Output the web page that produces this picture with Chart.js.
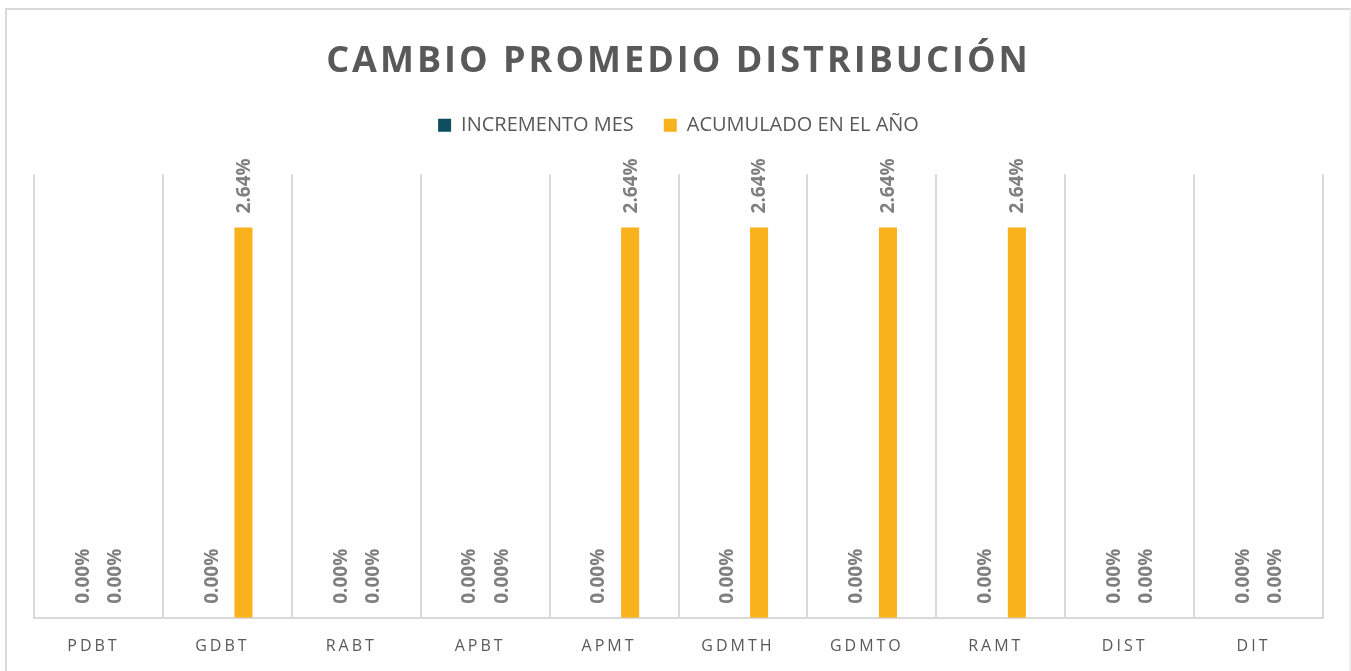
<!DOCTYPE html>
<html>
<head>
<meta charset="utf-8">
<script src="https://cdn.jsdelivr.net/npm/chart.js@4"></script>
<style>
  html, body { margin: 0; padding: 0; background: #fff; overflow: hidden; }
  #frame { position: absolute; left: 5px; top: 8px; width: 1346px; height: 700px; border: 2px solid #d9d9d9; border-right-color: #f0f0f0; box-sizing: border-box; }
  #cambioChart { position: absolute; left: 0; top: 0; }
</style>
</head>
<body>
<div id="frame"></div>
<canvas id="cambioChart" width="1351" height="671"></canvas>
<script>
const categories = ["PDBT", "GDBT", "RABT", "APBT", "APMT", "GDMTH", "GDMTO", "RAMT", "DIST", "DIT"];
const incrementoMes = [0, 0, 0, 0, 0, 0, 0, 0, 0, 0];
const acumuladoAnio = [0, 2.64, 0, 0, 2.64, 2.64, 2.64, 2.64, 0, 0];

// canvas letterSpacing only for the title and the category labels,
// plus some extra room under the legend
const layoutTweaks = {
  id: "layoutTweaks",
  beforeLayout(chart) {
    const lg = chart.legend;
    if (lg && !lg._fitWrapped) {
      const fit = lg.fit;
      lg.fit = function (...args) {
        fit.apply(this, args);
        this.height += 29;
      };
      lg._fitWrapped = true;
    }
  },
  beforeDraw(chart) {
    const wrap = (obj, key, sp) => {
      if (!obj || obj["_sp_" + key]) return;
      const orig = obj[key];
      obj[key] = function (...args) {
        const c = this.ctx;
        c.save();
        c.letterSpacing = sp;
        orig.apply(this, args);
        c.restore();
      };
      obj["_sp_" + key] = true;
    };
    wrap(chart.titleBlock, "draw", "3px");
    wrap(chart.scales.x, "drawLabels", "3px");
  }
};

const valueLabels = {
  id: "valueLabels",
  afterDatasetsDraw(chart) {
    const ctx = chart.ctx;
    ctx.save();
    ctx.fillStyle = "#7f7f7f";
    ctx.font = "bold 19px 'Open Sans'";
    ctx.textAlign = "left";
    ctx.textBaseline = "middle";
    chart.data.datasets.forEach((ds, i) => {
      chart.getDatasetMeta(i).data.forEach((bar, j) => {
        ctx.save();
        ctx.translate(bar.x + 1, bar.y - 14);
        ctx.rotate(-Math.PI / 2);
        ctx.fillText(ds.data[j].toFixed(2) + "%", 0, 0);
        ctx.restore();
      });
    });
    ctx.restore();
  }
};

const ctx = document.getElementById("cambioChart");
new Chart(ctx, {
  type: "bar",
  data: {
    labels: categories,
    datasets: [
      {
        label: "INCREMENTO MES",
        data: incrementoMes,
        backgroundColor: "#0E4D5F",
        categoryPercentage: 0.5,
        barPercentage: 0.56
      },
      {
        label: "ACUMULADO EN EL AÑO",
        data: acumuladoAnio,
        backgroundColor: "#F9B21B",
        categoryPercentage: 0.5,
        barPercentage: 0.56
      }
    ]
  },
  options: {
    responsive: false,
    animation: false,
    devicePixelRatio: 1,
    layout: { padding: { left: 34, right: 28, top: 0, bottom: -4 } },
    plugins: {
      tooltip: { enabled: false },
      title: {
        display: true,
        text: "CAMBIO PROMEDIO DISTRIBUCIÓN",
        color: "#595959",
        font: { family: "'Open Sans'", size: 36, weight: "bold" },
        padding: { top: 40, bottom: 2 }
      },
      legend: {
        position: "top",
        labels: {
          boxWidth: 13,
          boxHeight: 13,
          padding: 30,
          color: "#595959",
          font: { family: "'Open Sans'", size: 20 }
        }
      }
    },
    scales: {
      x: {
        grid: { offset: true, color: "#d9d9d9", lineWidth: 2, drawTicks: false },
        border: { color: "#d9d9d9", width: 2 },
        ticks: { color: "#595959", padding: 19, labelOffset: -5, font: { family: "'Open Sans'", size: 16 } }
      },
      y: { display: false, min: 0, max: 3 }
    }
  },
  plugins: [layoutTweaks, valueLabels]
});
</script>
</body>
</html>
